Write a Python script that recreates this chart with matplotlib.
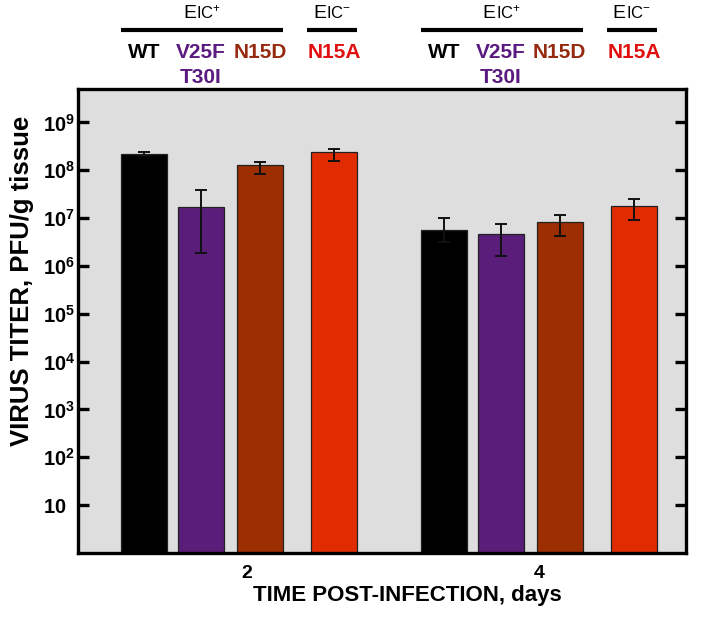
import matplotlib
matplotlib.use("Agg")
import matplotlib.pyplot as plt
import matplotlib.transforms as mtransforms
from matplotlib.offsetbox import TextArea, HPacker, AnnotationBbox
import numpy as np

plt.rcParams['font.family'] = ['Liberation Sans', 'DejaVu Sans']
plt.rcParams['mathtext.fontset'] = 'custom'
plt.rcParams['mathtext.bf'] = 'Liberation Sans:bold'
plt.rcParams['mathtext.rm'] = 'Liberation Sans'

# ---- data ----
days = [2, 4]
strains = ["WT", "V25F\nT30I", "N15D", "N15A"]
colors = ["#000000", "#5a1e7a", "#9c2e02", "#e02c00"]
label_colors = ["#000000", "#5a1a80", "#962a10", "#e01010"]
day2_mean = [2.15e8, 1.7e7, 1.29e8, 2.37e8]
day2_hi = [2.37e8, 3.8e7, 1.49e8, 2.78e8]
day2_lo = [1.95e8, 1.9e6, 8.3e7, 1.56e8]
day4_mean = [5.7e6, 4.6e6, 8.3e6, 1.8e7]
day4_hi = [1.03e7, 7.4e6, 1.15e7, 2.5e7]
day4_lo = [3.1e6, 1.6e6, 4.2e6, 9.1e6]
ytick_vals = [1e1, 1e2, 1e3, 1e4, 1e5, 1e6, 1e7, 1e8, 1e9]
ytick_labels = ["10", "10^{2}", "10^{3}", "10^{4}", "10^{5}", "10^{6}", "10^{7}", "10^{8}", "10^{9}"]
group_labels = [("E", "IC", "+", [0, 1, 2]), ("E", "IC", "-", [3])]

W, H = 704, 619
fig = plt.figure(figsize=(W / 100, H / 100), dpi=100)
ax = fig.add_axes([78 / W, (H - 553) / H, (686 - 78) / W, (553 - 89) / H])
ax.set_facecolor("#dedede")

offsets = np.array([-0.647, -0.259, 0.143, 0.650])
group_shift = [-0.052, -0.005]
width = 0.314

means = [day2_mean, day4_mean]
his = [day2_hi, day4_hi]
los = [day2_lo, day4_lo]

bar_x = []
for gi, d in enumerate(days):
    xs = d + group_shift[gi] + offsets
    bar_x.append(xs)
    m = np.array(means[gi]); hi = np.array(his[gi]); lo = np.array(los[gi])
    ax.bar(xs, m, width=width, bottom=1, color=colors, edgecolor="#222222",
           linewidth=0.9, zorder=2)
    ax.errorbar(xs, m, yerr=[m - lo, hi - m], fmt="none", ecolor="#111111",
                elinewidth=1.4, capsize=4.5, capthick=1.4, zorder=3)

ax.set_yscale("log")
ax.set_ylim(1, 5e9)
ax.set_xlim(0.85, 5.0)
ax.set_yticks(ytick_vals)
ax.set_yticklabels([r"$\mathbf{%s}$" % t for t in ytick_labels], fontsize=14.5)
ax.yaxis.set_minor_locator(matplotlib.ticker.NullLocator())
ax.tick_params(axis="y", which="major", direction="in", length=8, width=2.4,
               right=True, left=True, pad=25.5)
for lab in ax.get_yticklabels():
    lab.set_horizontalalignment("left")
ax.set_xticks(days)
ax.set_xticklabels([str(d) for d in days], fontsize=14, fontweight="bold")
ax.tick_params(axis="x", length=0, pad=9)
for s in ax.spines.values():
    s.set_linewidth(2.4)

ax.set_ylabel("VIRUS TITER, PFU/g tissue", fontsize=18.5, fontweight="bold")
ax.yaxis.set_label_coords((34 - 78) / 608, (553 - 281) / 464)
ax.set_xlabel("TIME POST-INFECTION, days", fontsize=16, fontweight="bold")
ax.xaxis.set_label_coords((407 - 78) / 608, (553 - 585) / 464)

# ---- top annotations ----
trans = mtransforms.blended_transform_factory(ax.transData, fig.transFigure)
def fy(py):
    return (H - py) / H

for gi in range(len(days)):
    xs = bar_x[gi]
    for k, name in enumerate(strains):
        for li, line in enumerate(name.split("\n")):
            ax.text(xs[k], fy(57.5 + 25.5 * li), line, transform=trans, ha="center",
                    va="baseline", fontsize=15, fontweight="bold",
                    color=label_colors[k], clip_on=False)
    for big, small, sup, idx in group_labels:
        left = xs[idx[0]] - width / 2 - (0.03 if len(idx) == 1 else 0.0)
        right = xs[idx[-1]] + width / 2
        ax.plot([left, right], [fy(30), fy(30)], transform=trans, color="black",
                lw=3, solid_capstyle="butt", clip_on=False)
        ta1 = TextArea(big, textprops=dict(fontsize=14, color="black"))
        ta2 = TextArea(r"$\mathregular{%s^{%s}}$" % (small, sup),
                       textprops=dict(fontsize=12, color="black"))
        pack = HPacker(children=[ta1, ta2], align="baseline", pad=0, sep=0.0)
        ab = AnnotationBbox(pack, ((left + right) / 2, fy(13)), xycoords=trans,
                            frameon=False, box_alignment=(0.5, 0.5), pad=0,
                            annotation_clip=False)
        ax.add_artist(ab)

fig.savefig("out.png", dpi=100)
